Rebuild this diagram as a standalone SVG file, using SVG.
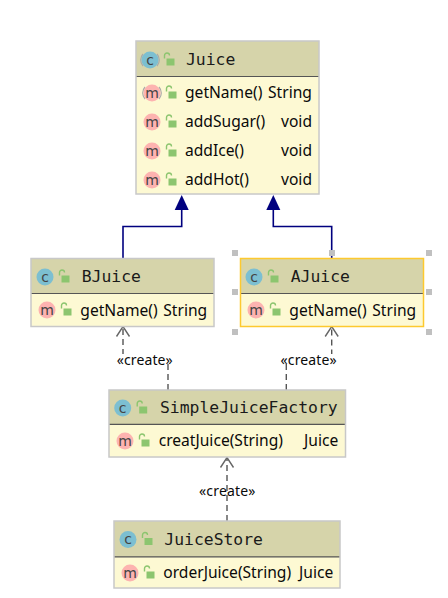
<svg xmlns="http://www.w3.org/2000/svg" xmlns:xlink="http://www.w3.org/1999/xlink" width="448" height="598" viewBox="0 0 448 598">
<style>
text{font-family:"Noto Sans","Liberation Sans",sans-serif;font-size:15.600px;fill:#0a0a0a}
.title{font-family:"DejaVu Sans Mono","Liberation Mono",monospace;font-size:16.400px;fill:#1a1a1a}
.hd{fill:#d6d4aa}
.bd{fill:#fdf9d3}
.frame{fill:none;stroke:#c8c8c8;stroke-width:1.5}
.sel{stroke:#fdc92f}
.div{stroke:#555;stroke-width:1.2}
.ic{font-family:"DejaVu Sans","Liberation Sans",sans-serif;font-size:14px;text-anchor:middle;fill:#444}
.cc{fill:#7cbfd1}
.mc{fill:#fdb3b0}
.ext{stroke:#00007f;stroke-width:1.6;fill:none}
.dep{stroke:#555;stroke-width:1.4;fill:none;stroke-dasharray:6 4}
.head{stroke:#666;stroke-width:1.4;fill:none}
.lbl{font-size:14px;fill:#0a0a0a}
.hdl{fill:#c0c0c0}
.ov{fill:none;stroke:#aaa;stroke-width:1.2}
</style>
<defs>
<g id="lock"><path d="M-4.500 -1.500V-4.500A2.500 2.500 0 0 1 0.500 -4.500" fill="none" stroke="#8cc56f" stroke-width="1.400"/><rect x="-2.500" y="-1.500" width="8" height="7" fill="#8cc56f"/></g>
<path id="tri" d="M0 0L-7 15H7Z" fill="#00007f"/>
<path id="open" d="M-6.500 10L0 0L6.500 10" class="head"/>
</defs>

<g id="connectors">
<path class="ext" d="M123 258V226.500H181.700V209"/>
<use xlink:href="#tri" x="181.700" y="195"/>
<path class="ext" d="M331.700 258V226.500H273.300V209"/>
<use xlink:href="#tri" x="273.300" y="195"/>
<path class="dep" d="M168 390V358H123V327"/>
<use xlink:href="#open" x="123" y="326.500"/>
<path class="dep" d="M286.300 390V358H331.700V327"/>
<use xlink:href="#open" x="331.700" y="326.500"/>
<path class="dep" d="M227 521V458"/>
<use xlink:href="#open" x="227" y="457.500"/>
<rect x="116" y="354" width="57" height="10" fill="#fff"/>
<rect x="280" y="354" width="57" height="10" fill="#fff"/>
<text class="lbl" x="116.700" y="364.500" textLength="56">«create»</text>
<text class="lbl" x="280.600" y="364.500" textLength="56">«create»</text>
<text class="lbl" x="199" y="496" textLength="56.500">«create»</text>
</g>

<g id="Juice">
<rect class="hd" x="136" y="41" width="183" height="35"/>
<rect class="bd" x="136" y="76" width="183" height="118"/>
<line class="div" x1="136" y1="76.500" x2="319" y2="76.500"/>
<rect class="frame" x="136" y="41" width="183" height="153"/>
<path class="ov" d="M143 54A9 9 0 0 0 143 66M157 54A9 9 0 0 1 157 66"/>
<circle class="cc" cx="150" cy="60" r="8.500"/><text class="ic" x="150" y="64.500">c</text>
<use xlink:href="#lock" x="169" y="60"/>
<text class="title" x="186" y="65">Juice</text>
<path class="ov" d="M145 87A9 9 0 0 0 145 99M159 87A9 9 0 0 1 159 99"/>
<circle class="mc" cx="152" cy="93" r="8.500"/><text class="ic" x="152" y="97.500">m</text>
<use xlink:href="#lock" x="171" y="93"/>
<text x="185" y="98">getName()</text><text x="268" y="98">String</text>
<circle class="mc" cx="152" cy="122" r="8.500"/><text class="ic" x="152" y="126.500">m</text>
<use xlink:href="#lock" x="171" y="122"/>
<text x="185" y="127">addSugar()</text><text x="281" y="127">void</text>
<circle class="mc" cx="152" cy="151" r="8.500"/><text class="ic" x="152" y="155.500">m</text>
<use xlink:href="#lock" x="171" y="151"/>
<text x="185" y="156">addIce()</text><text x="281" y="156">void</text>
<circle class="mc" cx="152" cy="180" r="8.500"/><text class="ic" x="152" y="184.500">m</text>
<use xlink:href="#lock" x="171" y="180"/>
<text x="185" y="185">addHot()</text><text x="281" y="185">void</text>
</g>

<g id="BJuice">
<rect class="hd" x="31" y="258.500" width="183" height="35"/>
<rect class="bd" x="31" y="293.500" width="183" height="33"/>
<line class="div" x1="31" y1="293.500" x2="214" y2="293.500"/>
<rect class="frame" x="31" y="258.500" width="183" height="68"/>
<circle class="cc" cx="45" cy="277" r="8.500"/><text class="ic" x="45" y="281.500">c</text>
<use xlink:href="#lock" x="64" y="277"/>
<text class="title" x="81.700" y="282">BJuice</text>
<circle class="mc" cx="47" cy="310" r="8.500"/><text class="ic" x="47" y="314.500">m</text>
<use xlink:href="#lock" x="66" y="310"/>
<text x="80.300" y="315.500">getName()</text><text x="163.300" y="315.500">String</text>
</g>

<g id="AJuice">
<rect class="hd" x="240.500" y="258.500" width="183" height="35"/>
<rect class="bd" x="240.500" y="293.500" width="183" height="33"/>
<line class="div" x1="240.500" y1="293.500" x2="423.500" y2="293.500"/>
<rect class="frame sel" x="240.500" y="258.500" width="183" height="68"/>
<circle class="cc" cx="254" cy="277" r="8.500"/><text class="ic" x="254" y="281.500">c</text>
<use xlink:href="#lock" x="273" y="277"/>
<text class="title" x="290.700" y="282">AJuice</text>
<circle class="mc" cx="256" cy="310" r="8.500"/><text class="ic" x="256" y="314.500">m</text>
<use xlink:href="#lock" x="275" y="310"/>
<text x="289.300" y="315.500">getName()</text><text x="372.300" y="315.500">String</text>
<rect class="hdl" x="232" y="250" width="6" height="6"/><rect class="hdl" x="329" y="250" width="6" height="6"/><rect class="hdl" x="426" y="250" width="6" height="6"/>
<rect class="hdl" x="232" y="289" width="6" height="6"/><rect class="hdl" x="426" y="289" width="6" height="6"/>
<rect class="hdl" x="232" y="329" width="6" height="6"/><rect class="hdl" x="426" y="329" width="6" height="6"/>
</g>

<g id="SimpleJuiceFactory">
<rect class="hd" x="109" y="390" width="236.500" height="34"/>
<rect class="bd" x="109" y="424" width="236.500" height="33"/>
<line class="div" x1="109" y1="424.300" x2="345.500" y2="424.300"/>
<rect class="frame" x="109" y="390" width="236.500" height="67"/>
<circle class="cc" cx="122.700" cy="408" r="8.500"/><text class="ic" x="122.700" y="412.500">c</text>
<use xlink:href="#lock" x="141.700" y="408"/>
<text class="title" x="160" y="413">SimpleJuiceFactory</text>
<circle class="mc" cx="125" cy="441" r="8.500"/><text class="ic" x="125" y="445.500">m</text>
<use xlink:href="#lock" x="144" y="441"/>
<text x="158.700" y="446">creatJuice(String)</text><text x="304" y="446">Juice</text>
</g>

<g id="JuiceStore">
<rect class="hd" x="114" y="521" width="226" height="36"/>
<rect class="bd" x="114" y="557" width="226" height="31"/>
<line class="div" x1="114" y1="556.800" x2="340" y2="556.800"/>
<rect class="frame" x="114" y="521" width="226" height="67"/>
<circle class="cc" cx="128" cy="539.500" r="8.500"/><text class="ic" x="128" y="544">c</text>
<use xlink:href="#lock" x="147" y="539.500"/>
<text class="title" x="164.300" y="545">JuiceStore</text>
<circle class="mc" cx="130" cy="573" r="8.500"/><text class="ic" x="130" y="577.500">m</text>
<use xlink:href="#lock" x="149" y="573"/>
<text x="163.300" y="578">orderJuice(String)</text><text x="299" y="578">Juice</text>
</g>
</svg>
